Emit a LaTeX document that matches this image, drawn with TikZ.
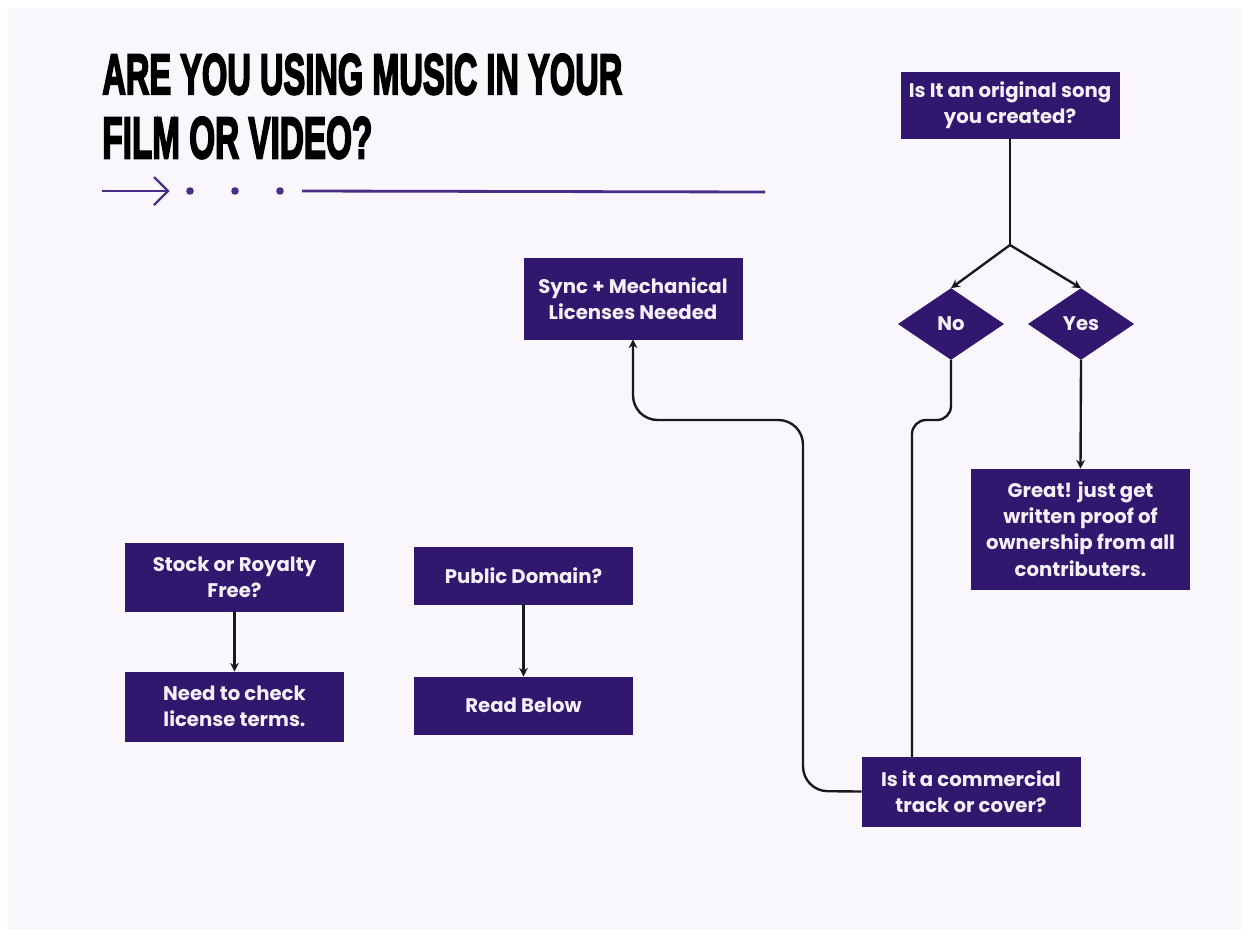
\documentclass[tikz,border=0pt]{standalone}
\usepackage{fontspec}
\usetikzlibrary{shapes.geometric,arrows.meta}
\setmainfont{Poppins}
\newfontfamily\titlefont{Liberation Sans}[FakeBold=4,BoldFeatures={FakeBold=4}]
\definecolor{boxpurple}{HTML}{32176E}
\definecolor{linepurple}{HTML}{4A2E86}
\definecolor{bgpage}{HTML}{F9F6FC}
\definecolor{boxtext}{HTML}{F4F0F8}
\tikzset{
  qbox/.style={rectangle, fill=boxpurple, draw=boxpurple, text=boxtext,
    font=\fontsize{11.2}{15}\selectfont\bfseries, align=center, inner sep=0pt,
    minimum width=4.36cm, minimum height=1.34cm},
  qdiam/.style={diamond, fill=boxpurple, draw=boxpurple, text=boxtext,
    font=\fontsize{11.2}{15}\selectfont\bfseries, inner sep=0pt,
    minimum width=2.1cm, minimum height=1.42cm},
  conn/.style={draw=black!90, line width=1.35pt},
  arr/.style={conn, -{Stealth[length=5pt,width=5pt]}},
}
\begin{document}
\begin{tikzpicture}[x=0.02cm,y=-0.02cm]
\fill[white] (0,0) rectangle (1250,937);
\fill[bgpage] (8,8) rectangle (1242,929);
\useasboundingbox (0,0) rectangle (1250,937);
% title
\node[anchor=south west, inner sep=0pt] (t1) at (102,95)
  {\resizebox{10.4cm}{0.8cm}{\titlefont\bfseries ARE YOU USING MUSIC IN YOUR}};
\node[anchor=south west, inner sep=0pt] (t2) at (102,159)
  {\resizebox{5.4cm}{0.82cm}{\titlefont\bfseries FILM OR VIDEO?}};
% decoration
\coordinate (a0) at (102,191);
\coordinate (a1) at (168,191);
\draw[linepurple, line width=1.4pt] (a0) -- (a1);
\draw[linepurple, line width=1.4pt, line join=miter] (154,177) -- (a1) -- (154,205);
\fill[linepurple] (190,191) circle (3.8);
\fill[linepurple] (235,191) circle (3.8);
\fill[linepurple] (280,191) circle (3.8);
\coordinate (l0) at (302,191);
\coordinate (l1) at (765,192);
\draw[linepurple, line width=1.6pt] (l0) -- (l1);
% nodes
\node[qbox, minimum height=1.32cm] (orig) at (1010,105) {Is It an original song\\you created?};
\node[qdiam] (no) at (951,324) {No};
\node[qdiam] (yes) at (1081,324) {Yes};
\node[qbox, minimum height=1.62cm] (sync) at (633,298.5) {Sync + Mechanical\\Licenses Needed};
\node[qbox, minimum height=2.4cm] (great) at (1080.5,529) {Great! just get\\written proof of\\ownership from all\\contributers.};
\node[qbox, minimum height=1.36cm] (stock) at (234.5,577) {Stock or Royalty\\Free?};
\node[qbox, minimum height=1.38cm] (need) at (234.5,706.5) {Need to check\\license terms.};
\node[qbox, minimum height=1.14cm] (public) at (523.5,575.5) {Public Domain?};
\node[qbox, minimum height=1.14cm] (read) at (523.5,705.5) {Read Below};
\node[qbox, minimum height=1.38cm] (comm) at (971,791.5) {Is it a commercial\\track or cover?};
% connectors
\coordinate (j) at (1010,245);
\draw[conn] (orig.south) -- (j);
\draw[arr] (j) -- (no.north);
\draw[arr] (j) -- (yes.north);
\draw[arr] (yes.south) -- (great.north);
\draw[conn, rounded corners=8pt] (no.south) -- (951,420) -- (912,420) -- (912,757);
\draw[arr, rounded corners=14pt] (comm.west) -- (803,791) -- (803,420) -- (633,420) -- (sync.south);
\draw[arr] (stock.south) -- (need.north);
\draw[arr] (public.south) -- (read.north);
\end{tikzpicture}
\end{document}
